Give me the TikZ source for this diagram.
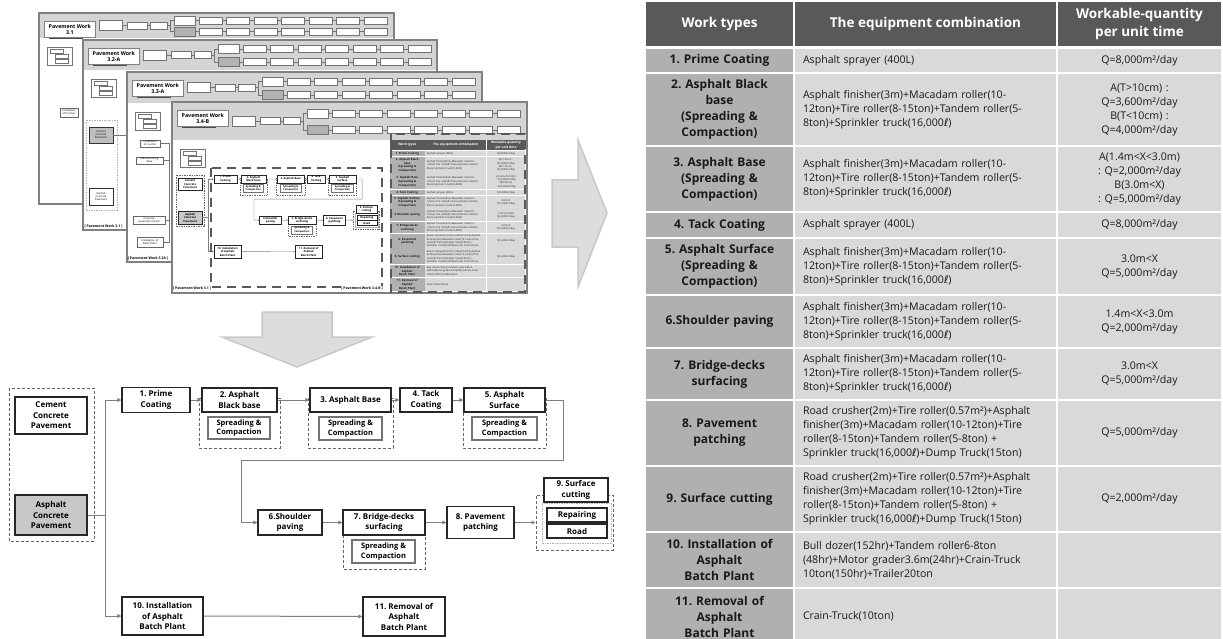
\documentclass[tikz,border=0pt]{standalone}
\usepackage{fontspec}
\setmainfont{Open Sans}
\newfontfamily\dvs{DejaVu Sans}
\usetikzlibrary{arrows.meta}
\frenchspacing
\definecolor{hdr}{HTML}{595959}
\definecolor{ccA}{HTML}{B0B0B0}
\definecolor{ccB}{HTML}{D9D9D9}
\definecolor{aspf}{HTML}{C8C8C8}
\definecolor{bigfill}{HTML}{DDDDDD}
\definecolor{bigline}{HTML}{C8C8C8}
\definecolor{cline}{HTML}{7F7F7F}
\newcommand\litre{{\dvs ℓ}}
\newcommand\trow[6]{%
 \node[tcA, minimum height=(#3-#2)*1pt] (-#1a) at (719.5,{(#2+#3)/2}) {#4};
 \node[tcB, minimum height=(#3-#2)*1pt] (-#1b) at (925.5,{(#2+#3)/2}) {#5};
 \node[tcC, minimum height=(#3-#2)*1pt] (-#1c) at (1139.5,{(#2+#3)/2}) {#6};
}
\newcommand\pagesheet[7]{%
 \pgfmathsetmacro\pyc{#2+#5*0.5}%
 \pgfmathsetmacro\pya{#2+#5*0.3}%
 \pgfmathsetmacro\pyb{#2+#5*0.74}%
 \draw[pgb] (#1,#2) rectangle ++(#3,#4);
 \fill[band] (#1,#2) rectangle ++(#3,#5);
 \draw[pgb, fill=none] (#1,#2) rectangle ++(#3,#4);
 \draw[hl] (#1+83,\pyc) -- (#1+131,\pyc);
 \draw[hl] (#1+131,\pya) -- (#1+131,\pyb);
 \draw[hl] (#1+131,\pya) -- (#1+348,\pya);
 \draw[hl] (#1+131,\pyb) -- (#1+348,\pyb);
 \draw[hbx] (#1+60,\pyc-5) rectangle ++(23,10);
 \draw[hbx] (#1+88,\pyc-3.5) rectangle ++(20,7);
 \draw[hbx] (#1+111,\pyc-3.5) rectangle ++(17,7);
 \draw[hbx] (#1+135,\pya-4.5) rectangle ++(21,9);
 \draw[hbx, fill=black!30] (#1+135,\pyb-4.5) rectangle ++(21,9);
 \foreach \k in {0,...,6}{
   \draw[hbx] ({#1+160+\k*27.5},\pya-3.5) rectangle ++(23,7);
   \draw[hbx] ({#1+160+\k*27.5},\pyb-3.5) rectangle ++(23,7);
 }
 \node[ttl, anchor=north west] (#7) at (#1+5,#2+8) {#6};
 \fill[black!70] (#1+10,#2+24.6) rectangle ++(34,1.4);
 \draw[hbx] (#1+8,#2+#5+9) rectangle ++(25,18);
 \draw[hbx] (#1+11,#2+#5+11) rectangle ++(13,4);
 \draw[hbx] (#1+16,#2+#5+16) rectangle ++(13,4);
 \draw[hbx] (#1+16,#2+#5+21) rectangle ++(13,4);
}
\tikzset{
 fbox/.style={draw=black!85, line width=1.3pt, fill=white, inner sep=0pt, align=center, text=black, font=\fontsize{8}{10.5}\selectfont\bfseries},
 sbox/.style={draw=black!55, line width=1.5pt, fill=white, inner sep=0pt, align=center, text=black, font=\fontsize{7.5}{9.3}\selectfont\bfseries},
 grpd/.style={draw=black!60, line width=0.9pt, dash pattern=on 3pt off 2pt},
 grpn/.style={draw=black!60, line width=0.9pt, dash pattern=on 3pt off 2pt, inner sep=0pt},
 grpg/.style={draw=black!30, line width=0.8pt, dash pattern=on 1.5pt off 1pt},
 ln/.style={draw=cline, line width=1pt},
 arr/.style={draw=cline, line width=1pt, arrows=-{Triangle[length=4pt,width=3.6pt]}},
 tcA/.style={fill=ccA, inner xsep=3pt, inner ysep=0pt, text width=141pt, minimum width=147pt, align=center, text=black!90, font=\fontsize{12}{16}\selectfont\bfseries},
 tcB/.style={fill=ccB, inner xsep=8pt, inner ysep=0pt, text width=245pt, minimum width=261pt, align=left, text=black!90, font=\fontsize{10.6}{14}\selectfont},
 tcC/.style={fill=ccB, inner xsep=4pt, inner ysep=0pt, text width=155pt, minimum width=163pt, align=center, text=black!90, font=\fontsize{10.6}{14}\selectfont},
 thd/.style={fill=hdr, text=white, inner sep=0pt, align=center, font=\fontsize{13.5}{18}\selectfont\bfseries},
 pgb/.style={draw=black!50, line width=1.2pt, fill=white},
 band/.style={fill=black!17},
 hl/.style={draw=black!55, line width=0.5pt},
 hbx/.style={draw=black!55, line width=0.5pt, fill=white},
 ttl/.style={draw=black!50, fill=white, line width=0.6pt, font=\fontsize{5.3}{6.5}\selectfont\bfseries, align=center, minimum width=51pt, minimum height=16pt, inner sep=0pt},
 tinyb/.style={draw=black!60, fill=white, line width=0.4pt, font=\fontsize{2.6}{3}\selectfont, align=center, inner sep=0pt},
 tinyl/.style={font=\fontsize{3.5}{4}\selectfont\bfseries, inner sep=0pt},
 bigdash/.style={draw=black!65, line width=2.8pt, dash pattern=on 9pt off 6pt},
 bigarr/.style={fill=bigfill, draw=bigline, line width=1.5pt, line join=miter},
 flow/.pic={
  \draw[grpd] (9,388) rectangle (94,541);
  \draw[grpd] (199,398) rectangle (280,448);
  \draw[grpd] (308,398) rectangle (393,448);
  \draw[grpd] (463,398) rectangle (546,448);
  \draw[grpd] (343,520) rectangle (425,569);
  \node[grpn, minimum width=77pt, minimum height=55pt] (-g9) at (574.5,522.5) {};
  \draw[grpg] (542,503) rectangle (611,543);
  \node[fbox, minimum width=72pt, minimum height=37pt] (-cem) at (51,415.5) {Cement\\Concrete\\Pavement};
  \node[fbox, fill=aspf, minimum width=72pt, minimum height=40pt] (-asp) at (51,515) {Asphalt\\Concrete\\Pavement};
  \node[fbox, minimum width=68pt, minimum height=25pt] (-p1) at (156,400) {1. Prime\\Coating};
  \node[fbox, minimum width=75pt, minimum height=24pt] (-p2) at (239.5,400) {2. Asphalt\\Black base};
  \node[sbox, minimum width=62pt, minimum height=22pt] (-s2) at (239,428) {Spreading \&\\Compaction};
  \node[fbox, minimum width=81pt, minimum height=24pt] (-p3) at (350.5,400) {3. Asphalt Base};
  \node[sbox, minimum width=63pt, minimum height=23pt] (-s3) at (350.5,428.5) {Spreading \&\\Compaction};
  \node[fbox, minimum width=52pt, minimum height=24pt] (-p4) at (426,400) {4. Tack\\Coating};
  \node[fbox, minimum width=81pt, minimum height=24pt] (-p5) at (504.5,400) {5. Asphalt\\Surface};
  \node[sbox, minimum width=65pt, minimum height=23pt] (-s5) at (504.5,428.5) {Spreading \&\\Compaction};
  \node[fbox, minimum width=64pt, minimum height=25pt] (-p6) at (290,522.5) {6.Shoulder\\paving};
  \node[fbox, minimum width=82pt, minimum height=25pt] (-p7) at (384,522.5) {7. Bridge-decks\\surfacing};
  \node[sbox, minimum width=63pt, minimum height=23pt] (-s7) at (383.5,551.5) {Spreading \&\\Compaction};
  \node[fbox, minimum width=67pt, minimum height=32pt] (-p8) at (480.5,522.5) {8. Pavement\\patching};
  \node[fbox, minimum width=64pt, minimum height=24pt] (-p9) at (576,490) {9. Surface\\cutting};
  \node[fbox, minimum width=60pt, minimum height=14pt] (-r9) at (577,515) {Repairing};
  \node[fbox, minimum width=60pt, minimum height=14pt] (-d9) at (577,531) {Road};
  \node[fbox, minimum width=81pt, minimum height=38pt] (-p10) at (162.5,616) {10. Installation\\of Asphalt\\Batch Plant};
  \node[fbox, minimum width=82pt, minimum height=39pt] (-p11) at (404,616.5) {11. Removal of\\Asphalt\\Batch Plant};
  \coordinate (-j) at (105,515);
  \draw[ln] (-asp.east) -- (-j);
  \draw[arr] (-j) |- (-p1.west);
  \draw[arr] (-j) |- (-p10.west);
  \draw[arr] (-p1) -- (-p2);
  \draw[arr] (-p2) -- (-p3);
  \draw[arr] (-p3) -- (-p4);
  \draw[arr] (-p4) -- (-p5);
  \draw[arr] (-p5.east) -- (563,400) -- (563,460) -- (241,460) |- (-p6.west);
  \draw[arr] (-p6) -- (-p7);
  \draw[arr] (-p7) -- (-p8);
  \draw[arr] (-p8) -- (-g9);
  \draw[arr] (-p10) -- (-p11);
 },
 ptable/.pic={
  \node[thd, minimum width=147pt, minimum height=44pt] (-h1) at (719.5,24) {Work types};
  \node[thd, minimum width=261pt, minimum height=44pt] (-h2) at (925.5,24) {The equipment combination};
  \node[thd, minimum width=163pt, minimum height=44pt] (-h3) at (1139.5,24) {Workable-quantity\\per unit time};
  \trow{r1}{49}{72}{1. Prime Coating}{Asphalt sprayer (400L)}{Q=8,000m²/day}
  \trow{r2}{74}{145}{2. Asphalt Black\\base\\(Spreading \&\\Compaction)}{Asphalt finisher(3m)+Macadam roller(10-\\12ton)+Tire roller(8-15ton)+Tandem roller(5-\\8ton)+Sprinkler truck(16,000\litre)}{A(T>10cm) :\\Q=3,600m²/day\\B(T<10cm) :\\Q=4,000m²/day}
  \trow{r3}{147}{211}{3. Asphalt Base\\(Spreading \&\\Compaction)}{Asphalt finisher(3m)+Macadam roller(10-\\12ton)+Tire roller(8-15ton)+Tandem roller(5-\\8ton)+Sprinkler truck(16,000\litre)}{A(1.4m<X<3.0m)\\: Q=2,000m²/day\\B(3.0m<X)\\: Q=5,000m²/day}
  \trow{r4}{213}{237}{4. Tack Coating}{Asphalt sprayer (400L)}{Q=8,000m²/day}
  \trow{r5}{239}{294}{5. Asphalt Surface\\(Spreading \&\\Compaction)}{Asphalt finisher(3m)+Macadam roller(10-\\12ton)+Tire roller(8-15ton)+Tandem roller(5-\\8ton)+Sprinkler truck(16,000\litre)}{3.0m<X\\Q=5,000m²/day}
  \trow{r6}{296}{347}{6.Shoulder paving}{Asphalt finisher(3m)+Macadam roller(10-\\12ton)+Tire roller(8-15ton)+Tandem roller(5-\\8ton)+Sprinkler truck(16,000\litre)}{1.4m<X<3.0m\\Q=2,000m²/day}
  \trow{r7}{349}{399}{7. Bridge-decks\\surfacing}{Asphalt finisher(3m)+Macadam roller(10-\\12ton)+Tire roller(8-15ton)+Tandem roller(5-\\8ton)+Sprinkler truck(16,000\litre)}{3.0m<X\\Q=5,000m²/day}
  \trow{r8}{401}{465}{8. Pavement\\patching}{Road crusher(2m)+Tire roller(0.57m²)+Asphalt\\finisher(3m)+Macadam roller(10-12ton)+Tire\\roller(8-15ton)+Tandem roller(5-8ton) +\\Sprinkler truck(16,000\litre)+Dump Truck(15ton)}{Q=5,000m²/day}
  \trow{r9}{467}{531}{9. Surface cutting}{Road crusher(2m)+Tire roller(0.57m²)+Asphalt\\finisher(3m)+Macadam roller(10-12ton)+Tire\\roller(8-15ton)+Tandem roller(5-8ton) +\\Sprinkler truck(16,000\litre)+Dump Truck(15ton)}{Q=2,000m²/day}
  \trow{r10}{533}{587}{10. Installation of\\Asphalt\\Batch Plant}{Bull dozer(152hr)+Tandem roller6-8ton\\(48hr)+Motor grader3.6m(24hr)+Crain-Truck\\10ton(150hr)+Trailer20ton}{}
  \trow{r11}{589}{644}{11. Removal of\\Asphalt\\Batch Plant}{Crain-Truck(10ton)}{}
 }
}
\begin{document}
\begin{tikzpicture}[x=1pt,y=-1pt]
\useasboundingbox (0,0) rectangle (1223,639);
\clip (0,0) rectangle (1223,639);
\fill[white] (0,0) rectangle (1223,639);
% ---- stacked pages ----
\pagesheet{39}{13}{355}{191}{25}{Pavement Work\\3.1}{t1}
\node[tinyb, minimum width=18pt, minimum height=9pt] (i1) at (69,112.5) {Installation\\of Crusher};
\pagesheet{83}{40}{354}{190}{30}{Pavement Work\\3.2-A}{t2}
\draw[grpg, line width=0.5pt] (86,120) rectangle (117,210);
\node[tinyb, fill=black!25, line width=0.9pt, draw=black!80, minimum width=24pt, minimum height=16pt] (c2) at (101,135) {Cement\\Concrete\\Pavement};
\node[tinyb, line width=0.9pt, draw=black!80, minimum width=24pt, minimum height=17pt] (a2) at (101,196.5) {Asphalt\\Concrete\\Pavement};
\draw[hl] (c2.east) -- ++(14,0);
\node[tinyl] (lb2) at (103.5,226) {[ Pavement Work 3.1 ]};
\pagesheet{127}{72}{355}{190}{31}{Pavement Work\\3.3-A}{t3}
\draw[hl] (169,143.5) -- (169,243);
\node[tinyb, minimum width=20pt, minimum height=7pt] (i3) at (150,143.5) {Installation\\of crusher};
\node[tinyb, minimum width=27pt, minimum height=7pt] (m3) at (149.5,160.5) {Manufacturing\\rebar};
\node[tinyb, minimum width=32pt, minimum height=8pt] (k3) at (149,220) {Concrete\\pavement mould};
\node[tinyb, minimum width=26pt, minimum height=10pt] (b3) at (150,242) {Installation of\\Batch Plant};
\draw[hl] (i3.east) -- (169,143.5);
\draw[hl] (m3.east) -- (169,160.5);
\draw[hl] (k3.east) -- (169,220);
\draw[hl] (b3.east) -- (169,242);
\node[tinyl] (lb3) at (148,258) {[ Pavement Work 3.2A ]};
\pagesheet{172}{102}{355}{191}{38}{Pavement Work\\3.4-B}{t4}
\begin{scope}[fbox/.append style={line width=0.45pt}, sbox/.append style={line width=0.45pt},
  grpd/.append style={line width=0.3pt, dash pattern=on 1pt off 0.7pt},
  grpn/.append style={line width=0.3pt, dash pattern=on 1pt off 0.7pt},
  grpg/.append style={line width=0.3pt, dash pattern=on 0.6pt off 0.4pt},
  ln/.append style={line width=0.35pt},
  arr/.append style={line width=0.35pt, arrows=-{Triangle[length=1.5pt,width=1.3pt]}}]
\pic[scale=0.336, transform shape] (mini) at (173,44.6) {flow};
\end{scope}
\pic[scale=0.235, transform shape] (mtab) at (238.2,139.5) {ptable};
\draw[bigdash] (211,168) rectangle (382,287);
\draw[bigdash] (391,134) rectangle (525,292);
\node[tinyl] (lb4a) at (192,288) {[ Pavement Work 3.1 ]};
\node[tinyl, fill=white] (lb4b) at (362,288) {[ Pavement Work 3.4-B ]};
% ---- big arrows ----
\draw[bigarr] (262,312) -- (332,312) -- (332,337) -- (372,337) -- (297,367) -- (222,337) -- (262,337) -- cycle;
\draw[bigarr] (552,180) -- (578,180) -- (578,140) -- (607,213) -- (578,287) -- (578,247) -- (552,247) -- cycle;
% ---- flowchart ----
\pic (main) at (0,0) {flow};
% ---- table ----
\pic (tab) at (0,0) {ptable};
\end{tikzpicture}
\end{document}
